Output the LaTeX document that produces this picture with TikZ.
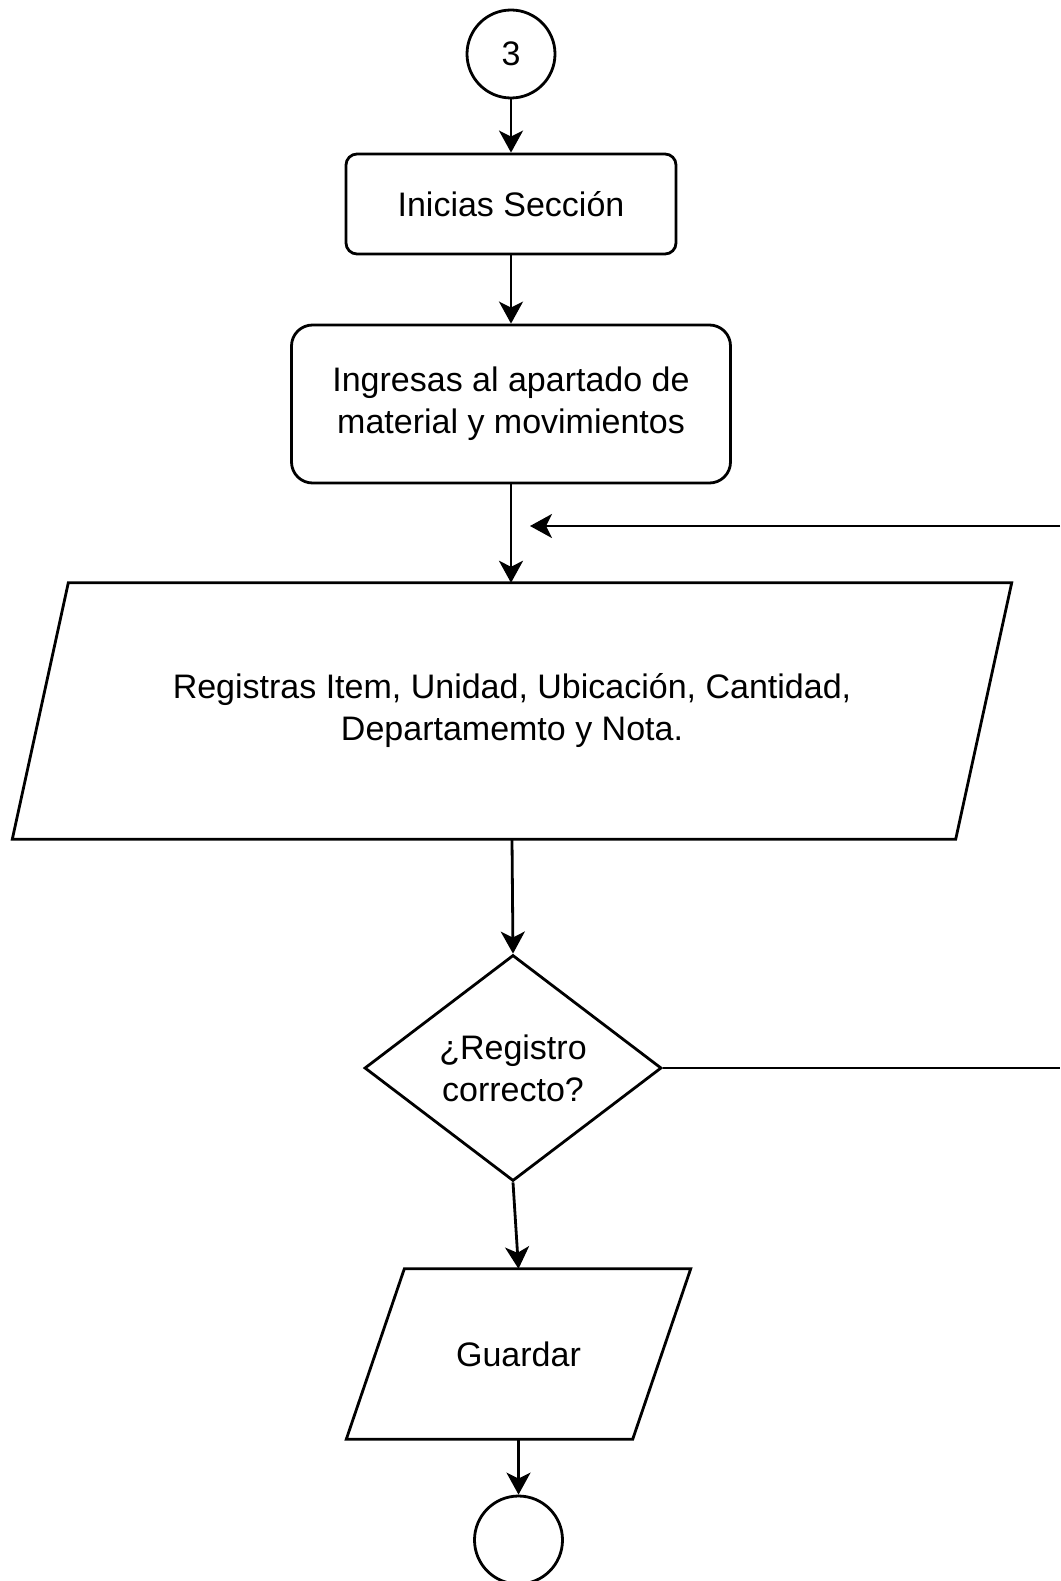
\documentclass[tikz,border=0pt]{standalone}
\usepackage{fontspec}
\setmainfont{Liberation Sans}
\usetikzlibrary{arrows.meta,shapes.geometric}
\begin{document}
\begin{tikzpicture}[x=1pt,y=-1pt,
  every node/.style={font=\fontsize{34}{42}\selectfont, text=black},
  line/.style={line width=2.8pt, draw=black},
  arr/.style={line width=2.8pt, draw=black, -{Stealth[length=22pt,width=24pt,inset=6pt]}},
  conn/.style={draw, circle, line width=2.8pt, minimum size=88pt, inner sep=0pt},
  procbox/.style={draw, rounded corners=#1, line width=2.8pt, align=center, inner sep=0pt},
  iobox/.style={inner sep=0pt, align=center},
  decision/.style={draw, diamond, aspect=1.32, line width=2.8pt, inner sep=0pt, align=center}
]
\useasboundingbox[fill=white] (0,0) rectangle (1060,1581);

% nodes
\node[conn] (c3) at (511,54) {3};
\node[procbox=11pt, minimum width=330pt, minimum height=100pt] (ini) at (511,204) {\raisebox{-3pt}{Inicias Sección}};
\node[procbox=21pt, minimum width=439pt, minimum height=158pt] (ing) at (511,404) {\raisebox{-4pt}{\begin{tabular}{@{}c@{}}Ingresas al apartado de\\material y movimientos\end{tabular}}};
\node[iobox, minimum width=943pt, minimum height=256pt] (reg) at (512,711) {\raisebox{-4pt}{\begin{tabular}{@{}c@{}}Registras Item, Unidad, Ubicación, Cantidad,\\Departamemto y Nota.\end{tabular}}};
\draw[line] ([xshift=28pt]reg.north west) -- ([xshift=28pt]reg.north east) -- ([xshift=-28pt]reg.south east) -- ([xshift=-28pt]reg.south west) -- cycle;
\node[decision, minimum width=297pt, minimum height=226pt] (dia) at (513,1068) {¿Registro\\correcto?};
\node[iobox, minimum width=286pt, minimum height=170pt] (gua) at (518.5,1354) {Guardar};
\draw[line] ([xshift=29pt]gua.north west) -- ([xshift=29pt]gua.north east) -- ([xshift=-29pt]gua.south east) -- ([xshift=-29pt]gua.south west) -- cycle;
\node[conn] (cend) at (518.5,1540) {};

% free ends at the right edge
\coordinate (fbin) at (1060,526);
\coordinate (fbtip) at (530,526);
\coordinate (noout) at (1060,1068);

% connectors
\draw[arr] (c3) -- (ini);
\draw[arr] (ini) -- (ing);
\draw[arr] (ing.south) -- (ing.south |- reg.north);
\draw[arr] (fbin) -- (fbtip);
\draw[arr] (reg.south) -- (dia.north);
\draw[line] (dia.east) -- (noout);
\draw[arr] (dia.south) -- (gua.north);
\draw[arr] (gua.south) -- (cend.north);
\end{tikzpicture}
\end{document}
